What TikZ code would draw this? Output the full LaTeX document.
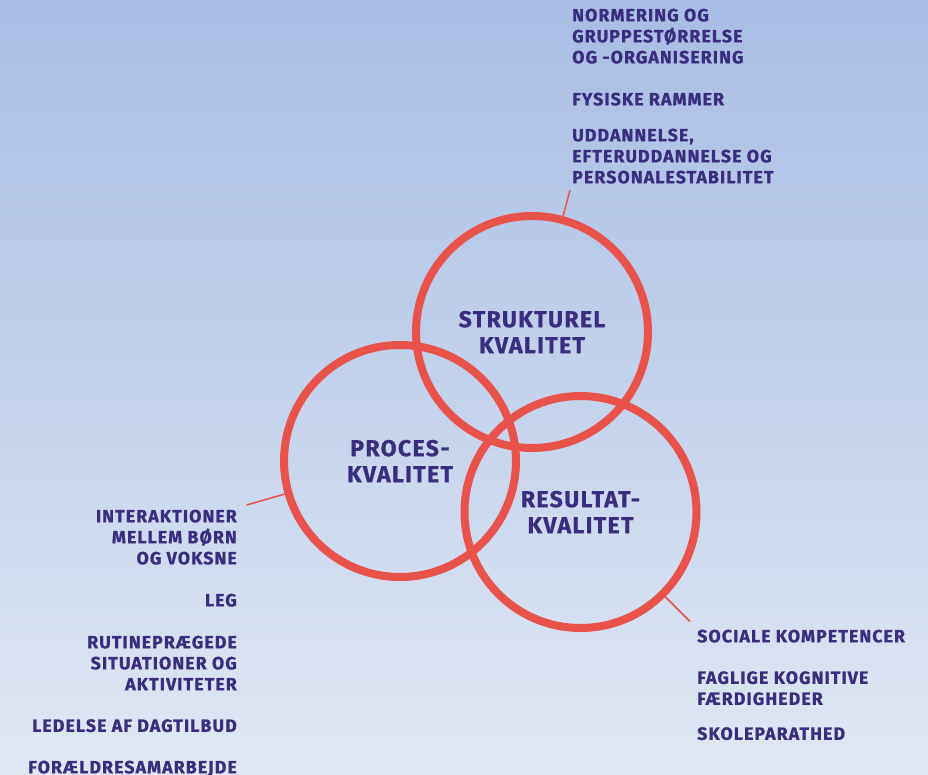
\documentclass[tikz,border=0pt]{standalone}
\usepackage{fontspec}
\setmainfont{Fira Sans}[LetterSpace=6, BoldFeatures={FakeBold=0.8}]
\usetikzlibrary{calc}
\definecolor{bgtop}{HTML}{A8BDE4}
\definecolor{bgbottom}{HTML}{E0E8F4}
\definecolor{ink}{HTML}{3A2C7E}
\definecolor{ringred}{HTML}{E8524A}
\tikzset{
  ring/.style={circle, draw=ringred, line width=8pt, minimum size=232pt, inner sep=0pt,
    text=ink, align=center, font=\bfseries\fontsize{23}{26}\selectfont},
  itemtext/.style={text=ink, inner sep=0pt, font=\bfseries\fontsize{17.8}{21}\selectfont},
  tick/.style={draw=ringred, line width=1.5pt}
}
\begin{document}
\begin{tikzpicture}[x=1pt, y=-1pt]
    % background
    \shade[top color=bgtop, bottom color=bgbottom] (0,0) rectangle (928,775);
    \useasboundingbox (0,0) rectangle (928,775);
    % the three rings
    \node[ring] (strukturel) at (532,332) {STRUKTUREL\\KVALITET};
    \node[ring] (proces) at (400,461) {PROCES-\\KVALITET};
    \node[ring] (resultat) at (580.5,512) {RESULTAT-\\KVALITET};
    % free ends of the ticks
    \coordinate (tagS) at ($(strukturel.center)!1.225!(strukturel.75.5)$);
    \coordinate (tagP) at ($(proces.center)!1.33!(proces.196.2)$);
    \coordinate (tagR) at ($(resultat.center)!1.29!(resultat.-45.3)$);
    \draw[tick] (strukturel.75.5) -- (tagS);
    \draw[tick] (proces.196.2) -- (tagP);
    \draw[tick] (resultat.-45.3) -- (tagR);
    % item lists
    \node[itemtext, anchor=north west, align=left] (listS) at (572,8.5)
        {NORMERING OG\\GRUPPESTØRRELSE\\OG -ORGANISERING\\[21pt]FYSISKE RAMMER\\[15pt]UDDANNELSE,\\EFTERUDDANNELSE OG\\PERSONALESTABILITET};
    \node[itemtext, anchor=north east, align=right] (listP) at (237,509.5)
        {INTERAKTIONER\\MELLEM BØRN\\OG VOKSNE\\[21pt]LEG\\[21pt]RUTINEPRÆGEDE\\SITUATIONER OG\\AKTIVITETER\\[20.5pt]LEDELSE AF DAGTILBUD\\[20.5pt]FORÆLDRESAMARBEJDE};
    \node[itemtext, anchor=north west, align=left] (listR) at (697,629.5)
        {SOCIALE KOMPETENCER\\[20.5pt]FAGLIGE KOGNITIVE\\FÆRDIGHEDER\\[14pt]SKOLEPARATHED};
\end{tikzpicture}
\end{document}
